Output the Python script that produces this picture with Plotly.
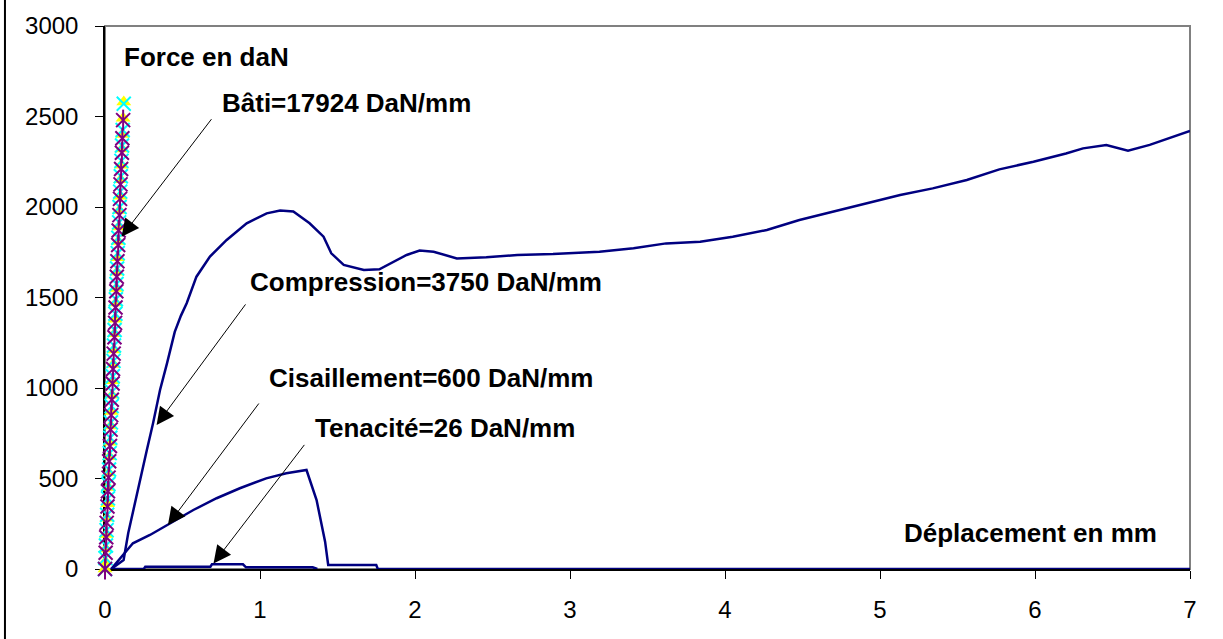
import plotly.graph_objects as go

# Compression test (displacement mm, force daN)
compression_x = [0.04, 0.12, 0.15, 0.215, 0.27, 0.31, 0.355, 0.40, 0.45, 0.49, 0.527, 0.59, 0.677,
                 0.785, 0.914, 1.043, 1.13, 1.215, 1.32, 1.41, 1.46, 1.54, 1.67, 1.77, 1.86, 1.946,
                 2.03, 2.12, 2.27, 2.46, 2.66, 2.89, 3.19, 3.41, 3.62, 3.84, 4.05, 4.27, 4.48, 4.70,
                 4.91, 5.13, 5.34, 5.56, 5.77, 5.99, 6.20, 6.31, 6.46, 6.60, 6.74, 6.85, 7.0]
compression_y = [0, 50, 199, 455, 657, 805, 989, 1136, 1310, 1400, 1468, 1615, 1726,
                 1818, 1910, 1965, 1980, 1975, 1910, 1836, 1744, 1680, 1652, 1656, 1698, 1735,
                 1759, 1753, 1716, 1722, 1735, 1740, 1753, 1772, 1799, 1808, 1836, 1873, 1928, 1975,
                 2017, 2066, 2103, 2149, 2208, 2250, 2296, 2324, 2343, 2311, 2343, 2374, 2420]

# Shear test
shear_x = [0.04, 0.18, 0.29, 0.42, 0.57, 0.72, 0.87, 1.04, 1.17, 1.30, 1.365, 1.42, 1.44,
           1.60, 1.75, 1.76, 7.0]
shear_y = [0, 142, 188, 252, 326, 391, 446, 501, 529, 547, 381, 151, 22,
           22, 22, 0, 0]

# Toughness test
tough_x = [0.04, 0.25, 0.26, 0.68, 0.69, 0.89, 0.91, 1.34, 1.37]
tough_y = [0, 0, 13, 13, 26, 26, 9, 9, 0]

# Frame (bâti) measurements, three runs
frame1_f = [0, 90, 175, 255, 345, 430, 505, 595, 680, 770, 850, 935, 1025, 1105, 1190,
            1280, 1360, 1445, 1535, 1615, 1700, 1790, 1870, 1955, 2045, 2125, 2210, 2300,
            2380, 2480]
frame1_d = [0.0, 0.004, 0.008, 0.011, 0.016, 0.019, 0.023, 0.027, 0.032, 0.036, 0.040, 0.044,
            0.049, 0.052, 0.056, 0.061, 0.065, 0.068, 0.073, 0.076, 0.080, 0.085, 0.088, 0.093,
            0.097, 0.100, 0.104, 0.109, 0.112, 0.117]
frame2_f = [0, 60, 130, 215, 300, 390, 470, 550, 640, 725, 810, 900, 980, 1065, 1150, 1235,
            1320, 1410, 1490, 1575, 1660, 1745, 1830, 1915, 2000, 2085, 2170, 2255, 2340,
            2425, 2570]
frame2_d = [0.0, 0.003, 0.006, 0.010, 0.014, 0.019, 0.022, 0.026, 0.030, 0.034, 0.038, 0.043,
            0.046, 0.050, 0.055, 0.058, 0.062, 0.067, 0.070, 0.074, 0.078, 0.082, 0.086, 0.091,
            0.094, 0.098, 0.102, 0.106, 0.110, 0.114, 0.121]
frame3_f = [0, 40, 110, 190, 280, 360, 450, 530, 620, 700, 790, 870, 960, 1040, 1130, 1210,
            1300, 1380, 1470, 1550, 1640, 1720, 1810, 1890, 1980, 2060, 2150, 2230, 2320,
            2400, 2490, 2580]
frame3_d = [0.0, 0.002, 0.005, 0.009, 0.013, 0.017, 0.021, 0.025, 0.029, 0.033, 0.037, 0.041,
            0.045, 0.049, 0.053, 0.057, 0.061, 0.065, 0.069, 0.073, 0.077, 0.081, 0.085, 0.089,
            0.093, 0.097, 0.101, 0.105, 0.109, 0.113, 0.117, 0.121]

NAVY = "#000080"
PURPLE = "#800080"
FONT = "Liberation Sans, Arial, sans-serif"

fig = go.Figure()

# frame markers: yellow triangles, cyan crosses, purple stars (x + vertical bar)
fig.add_trace(go.Scatter(x=frame3_d, y=frame3_f, mode="markers", cliponaxis=False,
                         marker=dict(symbol="triangle-up", size=13, color="#FFFF00")))
fig.add_trace(go.Scatter(x=frame2_d, y=frame2_f, mode="markers", cliponaxis=False,
                         marker=dict(symbol="x-thin-open", size=14, color="#00FFFF",
                                     line=dict(color="#00FFFF", width=2))))
fig.add_trace(go.Scatter(x=frame1_d, y=frame1_f, mode="markers", cliponaxis=False,
                         marker=dict(symbol="x-thin-open", size=14, color=PURPLE,
                                     line=dict(color=PURPLE, width=2))))
fig.add_trace(go.Scatter(x=frame1_d, y=frame1_f, mode="markers", cliponaxis=False,
                         marker=dict(symbol="line-ns-open", size=15, color=PURPLE,
                                     line=dict(color=PURPLE, width=2))))

for xs, ys in [(compression_x, compression_y), (shear_x, shear_y), (tough_x, tough_y)]:
    fig.add_trace(go.Scatter(x=xs, y=ys, mode="lines", cliponaxis=False,
                             line=dict(color=NAVY, width=2.5)))

# labels
labels = [
    ("Force en daN", 0.11, 2829),
    ("Bâti=17924 DaN/mm", 0.742, 2577),
    ("Compression=3750 DaN/mm", 0.923, 1586),
    ("Cisaillement=600 DaN/mm", 1.045, 1055),
    ("Tenacité=26 DaN/mm", 1.342, 779),
    ("Déplacement en mm", 5.142, 199),
]
for txt, x, y in labels:
    fig.add_annotation(x=x, y=y, text=f"<b>{txt}</b>", showarrow=False,
                       xanchor="left", yanchor="middle",
                       font=dict(family=FONT, size=26, color="black"))

# arrows (head in data units, tail offset in pixels)
arrows = [(0.107, 1836, 91, -119), (0.333, 796, 90, -122),
          (0.406, 243, 92, -123), (0.70, 31, 92, -120)]
for x, y, ax, ay in arrows:
    fig.add_annotation(x=x, y=y, ax=ax, ay=ay, text="", showarrow=True,
                       arrowhead=2, arrowsize=3.5, arrowwidth=1, arrowcolor="black",
                       standoff=0, startstandoff=0)

# plot area border, and the left edge of the chart frame (only part visible)
fig.add_shape(type="rect", xref="paper", yref="paper", x0=0, y0=0, x1=1, y1=1,
              line=dict(color="#808080", width=2), layer="below")
fig.add_shape(type="line", xref="paper", yref="paper", x0=-0.0922, y0=-0.15,
              x1=-0.0922, y1=1.1, line=dict(color="black", width=2))

fig.update_xaxes(range=[0, 7], dtick=1, showgrid=False, zeroline=False,
                 showline=True, linecolor="black", linewidth=1.5,
                 ticks="outside", ticklen=8, tickcolor="black",
                 tickfont=dict(family=FONT, size=24, color="black"),
                 ticklabelstandoff=10, layer="below traces")
fig.update_yaxes(range=[0, 3000], dtick=500, showgrid=False, zeroline=False,
                 showline=True, linecolor="black", linewidth=1.5,
                 ticks="outside", ticklen=8, tickcolor="black",
                 tickfont=dict(family=FONT, size=24, color="black"),
                 ticklabelstandoff=12, layer="below traces")

fig.update_layout(width=1223, height=639, showlegend=False,
                  margin=dict(l=105, r=33, t=26, b=70),
                  paper_bgcolor="white", plot_bgcolor="white")

fig.write_html("out.html", config={"displayModeBar": False},
               post_script="document.body.style.margin='0px';")
